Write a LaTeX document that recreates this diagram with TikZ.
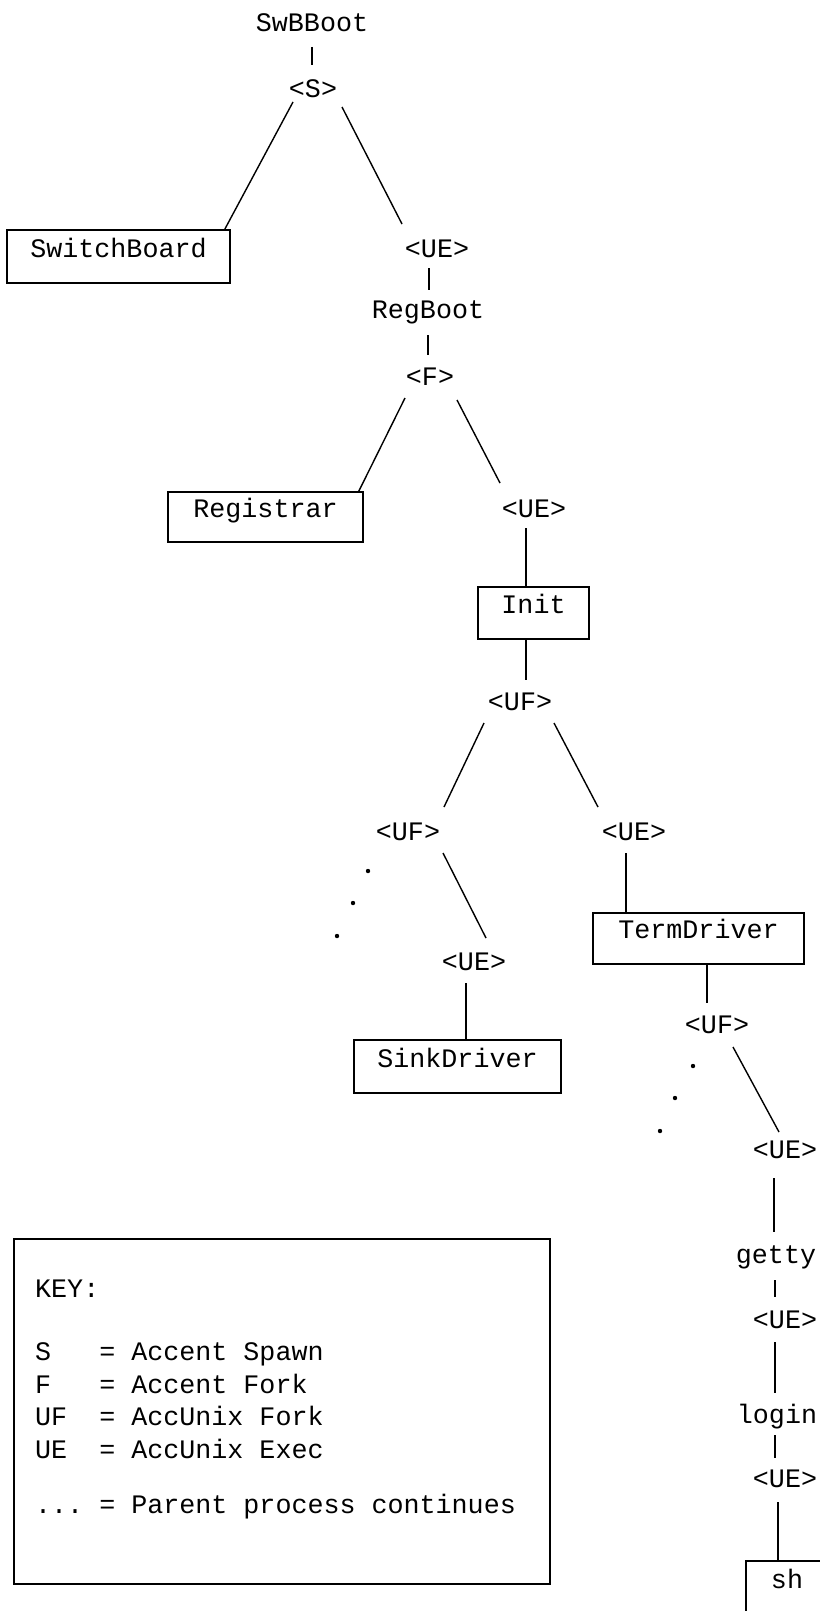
\documentclass[tikz,border=0pt]{standalone}
\usepackage{fontspec}
\newfontfamily\tw{Liberation Mono}
\usetikzlibrary{calc}
\tikzset{
  lbl/.style={anchor=base, inner sep=0pt, font=\tw\fontsize{26.7}{32}\selectfont},
  pbox/.style n args={3}{lbl, draw, line width=1.6pt, minimum width=#1, text height=#2, text depth=#3},
  conn/.style={line width=1.4pt},
  keytxt/.style={anchor=base west, inner sep=0pt, font=\tw\fontsize{26.7}{32}\selectfont},
  dotmark/.style={fill=black, draw=none}
}
\begin{document}
\begin{tikzpicture}[x=1pt,y=-1pt]
\useasboundingbox (0,0) rectangle (819,1611);
% labels
\node[lbl] (swb) at (312,32) {SwBBoot};
\node[lbl] (s) at (313,97) {<S>};
\node[pbox={223pt}{27pt}{26pt}] (sb) at (118.5,257) {SwitchBoard};
\node[lbl] (ue1) at (437,257) {<UE>};
\node[lbl] (rb) at (428,318) {RegBoot};
\node[lbl] (f) at (430,385) {<F>};
\node[pbox={195pt}{25pt}{25pt}] (reg) at (265.5,517) {Registrar};
\node[lbl] (ue2) at (534,517) {<UE>};
\node[pbox={111pt}{26pt}{26pt}] (init) at (533.5,613) {Init};
\node[lbl] (uf1) at (520,710) {<UF>};
\node[lbl] (uf2) at (408,840) {<UF>};
\node[lbl] (ue3) at (474,970) {<UE>};
\node[pbox={207pt}{27pt}{26pt}] (sink) at (457.5,1067) {SinkDriver};
\node[lbl] (ue4) at (634,840) {<UE>};
\node[pbox={211pt}{25pt}{26pt}] (term) at (698.5,938) {TermDriver};
\node[lbl] (uf3) at (717,1033) {<UF>};
\node[lbl] (ue5) at (785,1158) {<UE>};
\node[lbl] (getty) at (776,1263) {getty};
\node[lbl] (ue6) at (785,1328) {<UE>};
\node[lbl] (login) at (777,1423) {login};
\node[lbl] (ue7) at (785,1487) {<UE>};
\node[pbox={82pt}{27pt}{40pt}] (sh) at (787,1588) {sh};
% connectors
\draw[conn] ($(swb.base)+(0,15)$) -- ($(s.base)+(-1,-32)$);
\draw[conn] ($(s.base)+(-20,5)$) -- ($(sb.north east)+(-6,0)$);
\draw[conn] ($(s.base)+(29,10)$) -- ($(ue1.base)+(-35,-33)$);
\draw[conn] ($(ue1.base)+(-8,11)$) -- ($(rb.base)+(1,-28)$);
\draw[conn] ($(rb.base)+(0,17)$) -- ($(f.base)+(-2,-30)$);
\draw[conn] ($(f.base)+(-25,13)$) -- ($(reg.north east)+(-5,0)$);
\draw[conn] ($(f.base)+(27,15)$) -- ($(ue2.base)+(-34,-34)$);
\draw[conn] ($(ue2.base)+(-8,11)$) -- ($(init.north)+(-7.5,0)$);
\draw[conn] ($(init.south)+(-7.5,0)$) -- ($(uf1.base)+(6,-30)$);
\draw[conn] ($(uf1.base)+(-36,13)$) -- ($(uf2.base)+(36,-33)$);
\draw[conn] ($(uf1.base)+(34,13)$) -- ($(ue4.base)+(-36,-33)$);
\draw[conn] ($(uf2.base)+(35,13)$) -- ($(ue3.base)+(12,-32)$);
\draw[conn] ($(ue3.base)+(-8,13)$) -- ($(sink.north)+(8.5,0)$);
\draw[conn] ($(ue4.base)+(-8,13)$) -- ($(term.north)+(-72.5,0)$);
\draw[conn] ($(term.south)+(8.5,0)$) -- ($(uf3.base)+(-10,-30)$);
\draw[conn] ($(uf3.base)+(16,14)$) -- ($(ue5.base)+(-6,-26)$);
\draw[conn] ($(ue5.base)+(-11,20)$) -- ($(getty.base)+(-2,-31)$);
\draw[conn] ($(getty.base)+(-1,17)$) -- ($(ue6.base)+(-10,-31)$);
\draw[conn] ($(ue6.base)+(-10,14)$) -- ($(login.base)+(-2,-30)$);
\draw[conn] ($(login.base)+(-2,12)$) -- ($(ue7.base)+(-10,-29)$);
\draw[conn] ($(ue7.base)+(-7,15)$) -- ($(sh.north)+(-9,0)$);
% continuation dots
\fill[dotmark] ($(uf2.base)+(-40,31)$) circle (2.2);
\fill[dotmark] ($(uf2.base)+(-55,63)$) circle (2.2);
\fill[dotmark] ($(uf2.base)+(-71,96)$) circle (2.2);
\fill[dotmark] ($(uf3.base)+(-24,33)$) circle (2.2);
\fill[dotmark] ($(uf3.base)+(-42,65)$) circle (2.2);
\fill[dotmark] ($(uf3.base)+(-57,98)$) circle (2.2);
% key
\node[draw, line width=1.6pt, inner sep=0pt, minimum width=536pt, minimum height=345pt, anchor=north west] (key) at (13,1238) {};
\node[keytxt] (k1) at (35,1297) {KEY:};
\node[keytxt] (k2) at (35,1360) {S~~~= Accent Spawn};
\node[keytxt] (k3) at (35,1393) {F~~~= Accent Fork};
\node[keytxt] (k4) at (35,1425) {UF~~= AccUnix Fork};
\node[keytxt] (k5) at (35,1458) {UE~~= AccUnix Exec};
\node[keytxt] (k6) at (35,1513) {...~= Parent process continues};
\end{tikzpicture}
\end{document}
